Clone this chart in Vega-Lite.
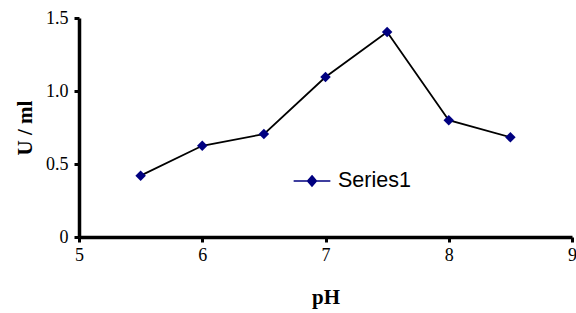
{
  "$schema": "https://vega.github.io/schema/vega-lite/v6.json",
  "width": 493,
  "height": 219,
  "autosize": {"type": "none"},
  "padding": {"left": 79, "top": 18, "right": 4, "bottom": 76},
  "background": "white",
  "config": {"view": {"stroke": null}},
  "data": {"values": [
    {"pH": 5.5, "U": 0.42, "series": "Series1"},
    {"pH": 6.0, "U": 0.625, "series": "Series1"},
    {"pH": 6.5, "U": 0.705, "series": "Series1"},
    {"pH": 7.0, "U": 1.096, "series": "Series1"},
    {"pH": 7.5, "U": 1.404, "series": "Series1"},
    {"pH": 8.0, "U": 0.80, "series": "Series1"},
    {"pH": 8.5, "U": 0.683, "series": "Series1"}
  ]},
  "layer": [
    {"mark": {"type": "line", "color": "black", "strokeWidth": 1.8},
     "encoding": {
       "x": {"field": "pH", "type": "quantitative",
         "scale": {"domain": [5, 9], "nice": false, "zero": false},
         "axis": {"values": [5, 6, 7, 8, 9], "format": "d", "title": "pH", "grid": false,
           "domainColor": "black", "domainWidth": 3.5, "tickColor": "black", "tickWidth": 3, "tickSize": 5,
           "labelFont": "Liberation Serif", "labelFontSize": 18, "labelColor": "black", "labelPadding": 4, "labelFlush": false, "labelOverlap": false,
           "titleFont": "Liberation Serif", "titleFontSize": 21, "titleFontWeight": "bold", "titleColor": "black", "titlePadding": 22}},
       "y": {"field": "U", "type": "quantitative",
         "scale": {"domain": [0, 1.5], "nice": false},
         "axis": {"values": [0, 0.5, 1.0, 1.5], "labelExpr": "datum.value == 0 ? '0' : format(datum.value, '.1f')", "title": "U / ml", "grid": false,
           "domainColor": "black", "domainWidth": 3.5, "tickColor": "black", "tickWidth": 3, "tickSize": 5,
           "labelFont": "Liberation Serif", "labelFontSize": 18, "labelColor": "black", "labelPadding": 6, "labelFlush": false, "labelOverlap": false,
           "titleFont": "Liberation Serif", "titleFontSize": 21, "titleFontWeight": "bold", "titleColor": "black", "titlePadding": 10}}
     }},
    {"mark": {"type": "point", "shape": "diamond", "filled": true, "size": 110, "opacity": 1},
     "encoding": {
       "x": {"field": "pH", "type": "quantitative",
         "scale": {"domain": [5, 9], "nice": false, "zero": false},
         "axis": {"values": [5, 6, 7, 8, 9], "format": "d", "title": "pH", "grid": false,
           "domainColor": "black", "domainWidth": 3.5, "tickColor": "black", "tickWidth": 3, "tickSize": 5,
           "labelFont": "Liberation Serif", "labelFontSize": 18, "labelColor": "black", "labelPadding": 4, "labelFlush": false, "labelOverlap": false,
           "titleFont": "Liberation Serif", "titleFontSize": 21, "titleFontWeight": "bold", "titleColor": "black", "titlePadding": 22}},
       "y": {"field": "U", "type": "quantitative",
         "scale": {"domain": [0, 1.5], "nice": false},
         "axis": {"values": [0, 0.5, 1.0, 1.5], "labelExpr": "datum.value == 0 ? '0' : format(datum.value, '.1f')", "title": "U / ml", "grid": false,
           "domainColor": "black", "domainWidth": 3.5, "tickColor": "black", "tickWidth": 3, "tickSize": 5,
           "labelFont": "Liberation Serif", "labelFontSize": 18, "labelColor": "black", "labelPadding": 6, "labelFlush": false, "labelOverlap": false,
           "titleFont": "Liberation Serif", "titleFontSize": 21, "titleFontWeight": "bold", "titleColor": "black", "titlePadding": 10}},
       "color": {"field": "series", "type": "nominal", "scale": {"range": ["#000080"]},
         "legend": {"title": null, "orient": "none", "legendX": 220, "legendY": 150,
           "symbolType": "M-1.5,0H1.5M0,-0.42L0.36,0L0,0.42L-0.36,0Z", "symbolSize": 600, "symbolStrokeWidth": 1.5, "symbolStrokeColor": "#000080", "symbolFillColor": "#000080",
           "labelFont": "Liberation Sans", "labelFontSize": 21.5, "labelColor": "black", "labelOffset": 13}}
     }}
  ]
}
